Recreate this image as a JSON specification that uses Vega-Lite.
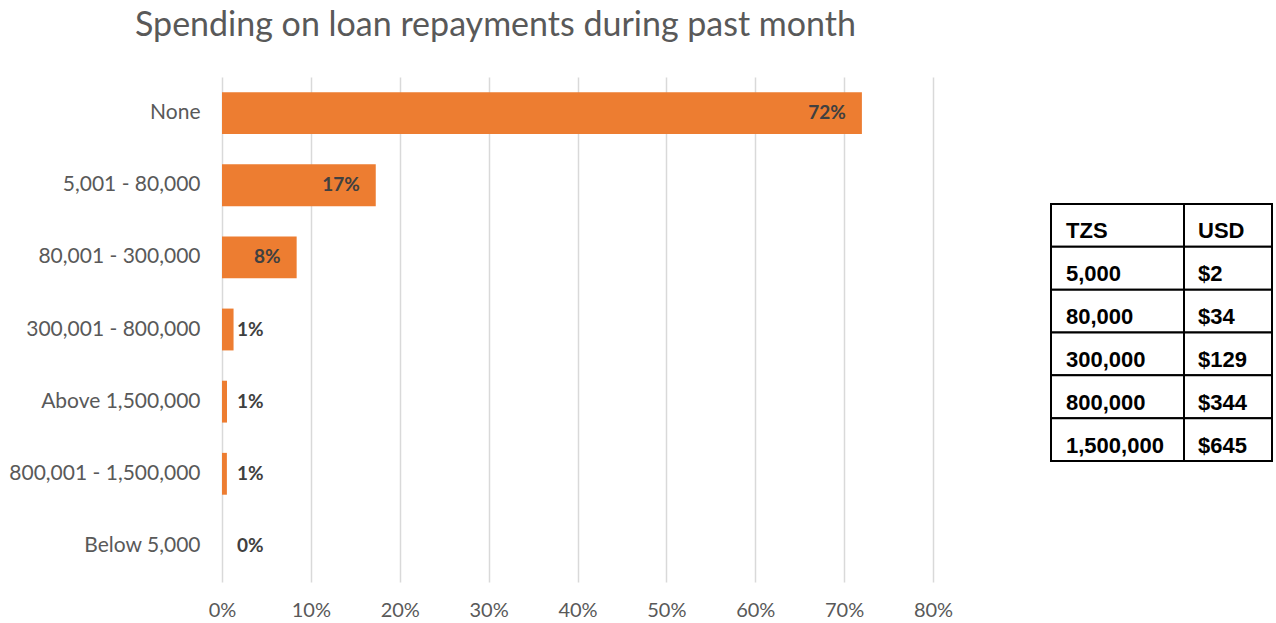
{
  "$schema": "https://vega.github.io/schema/vega-lite/v6.json",
  "padding": {"left": 5, "top": 9, "right": 0, "bottom": 0},
  "title": {"text": "Spending on loan repayments during past month", "anchor": "start", "frame": "bounds", "dx": 130, "fontSize": 34, "font": "Lato", "fontWeight": "normal", "color": "#595959", "offset": 34},
  "config": {"view": {"stroke": null}, "font": "Lato"},
  "datasets": {
    "spend": [
      {"category": "None", "share": 0.72},
      {"category": "5,001 - 80,000", "share": 0.173},
      {"category": "80,001 - 300,000", "share": 0.084},
      {"category": "300,001 - 800,000", "share": 0.013},
      {"category": "Above 1,500,000", "share": 0.0056},
      {"category": "800,001 - 1,500,000", "share": 0.0055},
      {"category": "Below 5,000", "share": 0}
    ],
    "table": [
      {"TZS": "TZS", "USD": "USD"},
      {"TZS": "5,000", "USD": "$2"},
      {"TZS": "80,000", "USD": "$34"},
      {"TZS": "300,000", "USD": "$129"},
      {"TZS": "800,000", "USD": "$344"},
      {"TZS": "1,500,000", "USD": "$645"}
    ]
  },
  "spacing": 97,
  "hconcat": [
    {
      "width": 711,
      "height": 505,
      "data": {"name": "spend"},
      "encoding": {
        "y": {
          "field": "category", "type": "nominal",
          "sort": ["None", "5,001 - 80,000", "80,001 - 300,000", "300,001 - 800,000", "Above 1,500,000", "800,001 - 1,500,000", "Below 5,000"],
          "scale": {"paddingInner": 0.42, "paddingOuter": 0.21},
          "axis": {"title": null, "domain": false, "ticks": false, "grid": false, "labelFontSize": 21, "labelColor": "#595959", "labelPadding": 22, "labelLimit": 0, "minExtent": 217, "maxExtent": 217, "labelFont": "Lato"}
        }
      },
      "layer": [
        {
          "mark": {"type": "bar", "color": "#ED7D31"},
          "encoding": {
            "x": {
              "field": "share", "type": "quantitative",
              "scale": {"domain": [0, 0.8], "nice": false},
              "axis": {"title": null, "format": ".0%", "values": [0, 0.1, 0.2, 0.3, 0.4, 0.5, 0.6, 0.7, 0.8], "domain": false, "ticks": false, "grid": true, "gridColor": "#d9d9d9", "gridWidth": 1.5, "labelFlush": false, "labelFontSize": 20, "labelColor": "#595959", "labelPadding": 18, "labelFont": "Lato"}
            }
          }
        },
        {
          "transform": [{"filter": "datum.share >= 0.05"}],
          "mark": {"type": "text", "align": "right", "dx": -16, "fontWeight": "bold", "fontSize": 19, "color": "#404040", "font": "Lato"},
          "encoding": {
            "x": {"field": "share", "type": "quantitative"},
            "text": {"field": "share", "type": "quantitative", "format": ".0%"}
          }
        },
        {
          "transform": [{"filter": "datum.share < 0.05"}],
          "mark": {"type": "text", "align": "left", "dx": 15, "fontWeight": "bold", "fontSize": 19, "color": "#404040", "font": "Lato"},
          "encoding": {
            "x": {"datum": 0, "type": "quantitative"},
            "text": {"field": "share", "type": "quantitative", "format": ".0%"}
          }
        }
      ]
    },
    {
      "spacing": 126,
      "bounds": "flush",
      "vconcat": [
        {"width": 1, "height": 1, "data": {"values": []}, "mark": "point"},
        {
          "spacing": 0,
          "bounds": "flush",
          "hconcat": [
            {
              "width": 133,
              "height": 257,
              "data": {"name": "table"},
              "transform": [{"fold": ["TZS", "USD"], "as": ["column", "cell"]}, {"filter": "datum.column === 'TZS'"}],
              "encoding": {
                "y": {"field": "TZS", "type": "nominal", "sort": ["TZS", "5,000", "80,000", "300,000", "800,000", "1,500,000"], "scale": {"paddingInner": 0, "paddingOuter": 0}, "axis": null},
                "x": {"field": "column", "type": "nominal", "bandPosition": 0, "scale": {"paddingInner": 0, "paddingOuter": 0}, "axis": null}
              },
              "layer": [
                {"mark": {"type": "rect", "fill": "white", "stroke": "black", "strokeWidth": 2}, "encoding": {"x": {"field": "column", "type": "nominal", "axis": null}}},
                {"mark": {"type": "text", "align": "left", "baseline": "alphabetic", "dx": 15, "dy": 13, "fontWeight": "bold", "fontSize": 22, "font": "Liberation Sans", "color": "black"}, "encoding": {"text": {"field": "cell", "type": "nominal"}}}
              ]
            },
            {
              "width": 88,
              "height": 257,
              "data": {"name": "table"},
              "transform": [{"fold": ["TZS", "USD"], "as": ["column", "cell"]}, {"filter": "datum.column === 'USD'"}],
              "encoding": {
                "y": {"field": "TZS", "type": "nominal", "sort": ["TZS", "5,000", "80,000", "300,000", "800,000", "1,500,000"], "scale": {"paddingInner": 0, "paddingOuter": 0}, "axis": null},
                "x": {"field": "column", "type": "nominal", "bandPosition": 0, "scale": {"paddingInner": 0, "paddingOuter": 0}, "axis": null}
              },
              "layer": [
                {"mark": {"type": "rect", "fill": "white", "stroke": "black", "strokeWidth": 2}, "encoding": {"x": {"field": "column", "type": "nominal", "axis": null}}},
                {"mark": {"type": "text", "align": "left", "baseline": "alphabetic", "dx": 14, "dy": 13, "fontWeight": "bold", "fontSize": 22, "font": "Liberation Sans", "color": "black"}, "encoding": {"text": {"field": "cell", "type": "nominal"}}}
              ]
            }
          ]
        }
      ]
    }
  ]
}
